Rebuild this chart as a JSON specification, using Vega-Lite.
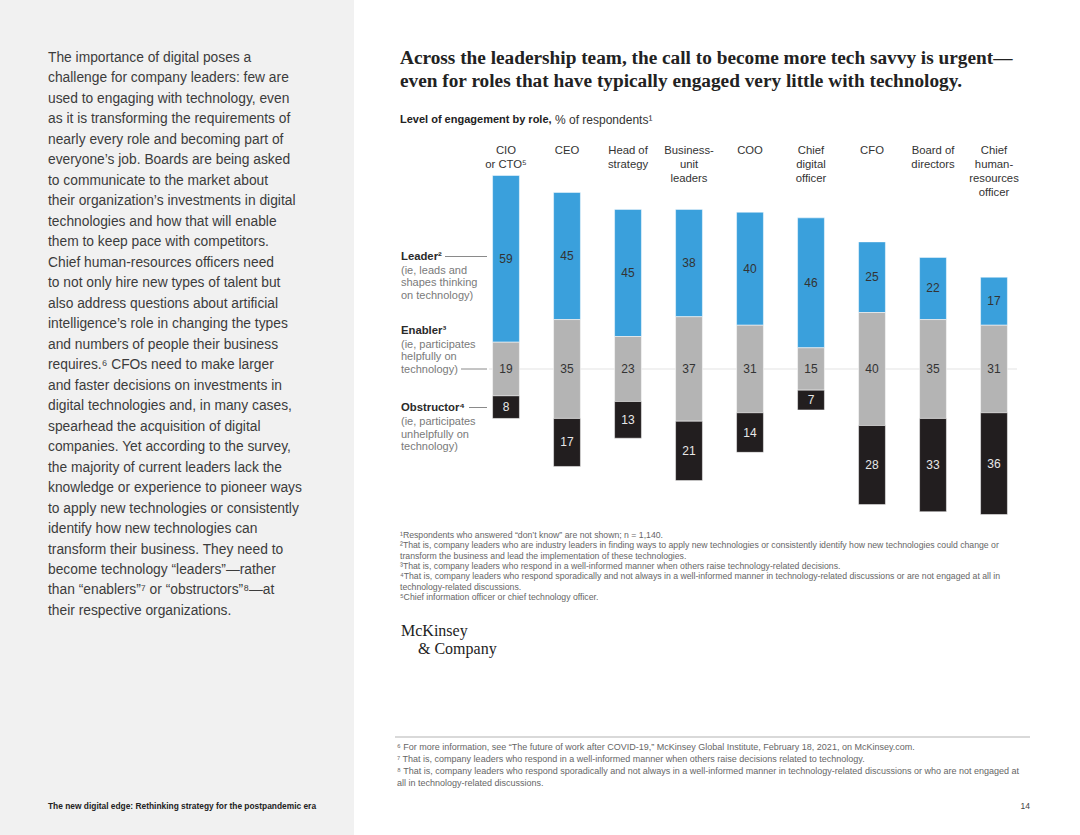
{
  "$schema": "https://vega.github.io/schema/vega-lite/v6.json",
  "width": 1080,
  "height": 835,
  "autosize": "none",
  "padding": 0,
  "background": "white",
  "config": {"view": {"stroke": null}, "text": {"font": "Liberation Sans"}},
  "datasets": {
    "engagement": [
      {"role": "CIO\nor CTO⁵", "level": "Leader", "value": 59},
      {"role": "CIO\nor CTO⁵", "level": "Enabler", "value": 19},
      {"role": "CIO\nor CTO⁵", "level": "Obstructor", "value": 8},
      {"role": "CEO", "level": "Leader", "value": 45},
      {"role": "CEO", "level": "Enabler", "value": 35},
      {"role": "CEO", "level": "Obstructor", "value": 17},
      {"role": "Head of\nstrategy", "level": "Leader", "value": 45},
      {"role": "Head of\nstrategy", "level": "Enabler", "value": 23},
      {"role": "Head of\nstrategy", "level": "Obstructor", "value": 13},
      {"role": "Business-\nunit\nleaders", "level": "Leader", "value": 38},
      {"role": "Business-\nunit\nleaders", "level": "Enabler", "value": 37},
      {"role": "Business-\nunit\nleaders", "level": "Obstructor", "value": 21},
      {"role": "COO", "level": "Leader", "value": 40},
      {"role": "COO", "level": "Enabler", "value": 31},
      {"role": "COO", "level": "Obstructor", "value": 14},
      {"role": "Chief\ndigital\nofficer", "level": "Leader", "value": 46},
      {"role": "Chief\ndigital\nofficer", "level": "Enabler", "value": 15},
      {"role": "Chief\ndigital\nofficer", "level": "Obstructor", "value": 7},
      {"role": "CFO", "level": "Leader", "value": 25},
      {"role": "CFO", "level": "Enabler", "value": 40},
      {"role": "CFO", "level": "Obstructor", "value": 28},
      {"role": "Board of\ndirectors", "level": "Leader", "value": 22},
      {"role": "Board of\ndirectors", "level": "Enabler", "value": 35},
      {"role": "Board of\ndirectors", "level": "Obstructor", "value": 33},
      {"role": "Chief\nhuman-\nresources\nofficer", "level": "Leader", "value": 17},
      {"role": "Chief\nhuman-\nresources\nofficer", "level": "Enabler", "value": 31},
      {"role": "Chief\nhuman-\nresources\nofficer", "level": "Obstructor", "value": 36}
    ]
  },
  "layer": [
    {
      "data": {"values": [{}]},
      "mark": {"type": "rect", "fill": "#f1f1f1"},
      "encoding": {"x": {"value": 0}, "x2": {"value": 354}, "y": {"value": 0}, "y2": {"value": 835}}
    },
    {
      "data": {"values": [{}]},
      "mark": {"type": "text", "align": "left", "baseline": "middle", "fontSize": 13.8, "lineHeight": 20.48, "color": "#3c3c3c",
        "text": [
          "The importance of digital poses a",
          "challenge for company leaders: few are",
          "used to engaging with technology, even",
          "as it is transforming the requirements of",
          "nearly every role and becoming part of",
          "everyone’s job. Boards are being asked",
          "to communicate to the market about",
          "their organization’s investments in digital",
          "technologies and how that will enable",
          "them to keep pace with competitors.",
          "Chief human-resources officers need",
          "to not only hire new types of talent but",
          "also address questions about artificial",
          "intelligence’s role in changing the types",
          "and numbers of people their business",
          "requires.⁶ CFOs need to make larger",
          "and faster decisions on investments in",
          "digital technologies and, in many cases,",
          "spearhead the acquisition of digital",
          "companies. Yet according to the survey,",
          "the majority of current leaders lack the",
          "knowledge or experience to pioneer ways",
          "to apply new technologies or consistently",
          "identify how new technologies can",
          "transform their business. They need to",
          "become technology “leaders”—rather",
          "than “enablers”⁷ or “obstructors”⁸—at",
          "their respective organizations."
        ]},
      "encoding": {"x": {"value": 48}, "y": {"value": 58}}
    },
    {
      "data": {"values": [{}]},
      "mark": {"type": "text", "align": "left", "baseline": "middle", "fontSize": 8.4, "fontWeight": "bold", "color": "#222222",
        "text": "The new digital edge: Rethinking strategy for the postpandemic era"},
      "encoding": {"x": {"value": 48}, "y": {"value": 806}}
    },
    {
      "data": {"values": [{}]},
      "mark": {"type": "text", "align": "right", "baseline": "middle", "fontSize": 8.5, "color": "#444444", "text": "14"},
      "encoding": {"x": {"value": 1030}, "y": {"value": 806}}
    },
    {
      "data": {"values": [{}]},
      "mark": {"type": "text", "align": "left", "baseline": "middle", "font": "Liberation Serif", "fontWeight": "bold", "fontSize": 19.3, "lineHeight": 23, "color": "#222222",
        "text": ["Across the leadership team, the call to become more tech savvy is urgent—", "even for roles that have typically engaged very little with technology."]},
      "encoding": {"x": {"value": 400}, "y": {"value": 58}}
    },
    {
      "data": {"values": [{}]},
      "mark": {"type": "text", "align": "left", "baseline": "middle", "fontSize": 11, "fontWeight": "bold", "color": "#222222", "text": "Level of engagement by role,"},
      "encoding": {"x": {"value": 400}, "y": {"value": 120}}
    },
    {
      "data": {"values": [{}]},
      "mark": {"type": "text", "align": "left", "baseline": "middle", "fontSize": 12, "color": "#333333", "text": "% of respondents¹"},
      "encoding": {"x": {"value": 555}, "y": {"value": 120}}
    },
    {
      "data": {"values": [{}]},
      "mark": {"type": "rule", "color": "#e4e4e4", "strokeWidth": 1.2},
      "encoding": {"x": {"value": 489}, "x2": {"value": 1017}, "y": {"value": 369}}
    },
    {
      "data": {"values": [{}]},
      "mark": {"type": "rule", "color": "#8a8a8a", "strokeWidth": 1},
      "encoding": {"x": {"value": 445}, "x2": {"value": 487}, "y": {"value": 256.5}}
    },
    {
      "data": {"values": [{}]},
      "mark": {"type": "rule", "color": "#8a8a8a", "strokeWidth": 1},
      "encoding": {"x": {"value": 461}, "x2": {"value": 487}, "y": {"value": 369}}
    },
    {
      "data": {"values": [{}]},
      "mark": {"type": "rule", "color": "#8a8a8a", "strokeWidth": 1},
      "encoding": {"x": {"value": 469}, "x2": {"value": 487}, "y": {"value": 407.5}}
    },
    {
      "data": {"values": [{}]},
      "mark": {"type": "text", "align": "left", "baseline": "middle", "fontSize": 11.3, "fontWeight": "bold", "color": "#2a2a2a", "text": "Leader²"},
      "encoding": {"x": {"value": 401}, "y": {"value": 256.5}}
    },
    {
      "data": {"values": [{}]},
      "mark": {"type": "text", "align": "left", "baseline": "middle", "fontSize": 11, "lineHeight": 12.6, "color": "#7a7a7a", "text": ["(ie, leads and", "shapes thinking", "on technology)"]},
      "encoding": {"x": {"value": 401}, "y": {"value": 270.8}}
    },
    {
      "data": {"values": [{}]},
      "mark": {"type": "text", "align": "left", "baseline": "middle", "fontSize": 11.3, "fontWeight": "bold", "color": "#2a2a2a", "text": "Enabler³"},
      "encoding": {"x": {"value": 401}, "y": {"value": 330.7}}
    },
    {
      "data": {"values": [{}]},
      "mark": {"type": "text", "align": "left", "baseline": "middle", "fontSize": 11, "lineHeight": 12.3, "color": "#7a7a7a", "text": ["(ie, participates", "helpfully on", "technology)"]},
      "encoding": {"x": {"value": 401}, "y": {"value": 345}}
    },
    {
      "data": {"values": [{}]},
      "mark": {"type": "text", "align": "left", "baseline": "middle", "fontSize": 11.3, "fontWeight": "bold", "color": "#2a2a2a", "text": "Obstructor⁴"},
      "encoding": {"x": {"value": 401}, "y": {"value": 407.5}}
    },
    {
      "data": {"values": [{}]},
      "mark": {"type": "text", "align": "left", "baseline": "middle", "fontSize": 11, "lineHeight": 12.6, "color": "#7a7a7a", "text": ["(ie, participates", "unhelpfully on", "technology)"]},
      "encoding": {"x": {"value": 401}, "y": {"value": 422}}
    },
    {
      "data": {"name": "engagement"},
      "transform": [
        {"calculate": "datum.level === 'Enabler' ? datum.value : 0", "as": "en"},
        {"joinaggregate": [{"op": "sum", "field": "en", "as": "E"}], "groupby": ["role"]},
        {"calculate": "datum.level === 'Leader' ? datum.E / 2 : (datum.level === 'Enabler' ? -datum.E / 2 : -datum.E / 2 - datum.value)", "as": "y0"},
        {"calculate": "datum.level === 'Leader' ? datum.E / 2 + datum.value : (datum.level === 'Enabler' ? datum.E / 2 : -datum.E / 2)", "as": "y1"},
        {"calculate": "(datum.y0 + datum.y1) / 2", "as": "mid"}
      ],
      "layer": [
        {
          "mark": {"type": "bar", "stroke": "#ffffff", "strokeWidth": 0.7, "strokeOpacity": 0.7},
          "encoding": {
            "x": {"field": "role", "type": "nominal", "sort": null, "axis": null,
              "scale": {"range": [475.5, 1024.5], "paddingInner": 0.56, "paddingOuter": 0.28}},
            "y": {"field": "y0", "type": "quantitative", "axis": null,
              "scale": {"domain": [-60, 80], "range": [538.5, 143], "nice": false, "zero": false}},
            "y2": {"field": "y1"},
            "color": {"field": "level", "type": "nominal", "legend": null,
              "scale": {"domain": ["Leader", "Enabler", "Obstructor"], "range": ["#3aa0dc", "#b4b4b4", "#221e1f"]}}
          }
        },
        {
          "mark": {"type": "text", "align": "center", "baseline": "middle", "fontSize": 12},
          "encoding": {
            "x": {"field": "role", "type": "nominal", "sort": null},
            "y": {"field": "mid", "type": "quantitative"},
            "text": {"field": "value", "type": "quantitative"},
            "color": {"condition": {"test": "datum.level === 'Obstructor'", "value": "#e8e8e8"}, "value": "#333333"}
          }
        },
        {
          "transform": [{"filter": "datum.level === 'Leader'"}],
          "mark": {"type": "text", "align": "center", "baseline": "middle", "fontSize": 11.3, "lineHeight": 14, "lineBreak": "\n", "color": "#333333"},
          "encoding": {
            "x": {"field": "role", "type": "nominal", "sort": null},
            "y": {"value": 150.5},
            "text": {"field": "role", "type": "nominal"}
          }
        }
      ]
    },
    {
      "data": {"values": [{}]},
      "mark": {"type": "text", "align": "left", "baseline": "middle", "fontSize": 8.7, "lineHeight": 10.3, "color": "#666666",
        "text": [
          "¹Respondents who answered “don’t know” are not shown; n = 1,140.",
          "²That is, company leaders who are industry leaders in finding ways to apply new technologies or consistently identify how new technologies could change or",
          "\u00a0transform the business and lead the implementation of these technologies.",
          "³That is, company leaders who respond in a well-informed manner when others raise technology-related decisions.",
          "⁴That is, company leaders who respond sporadically and not always in a well-informed manner in technology-related discussions or are not engaged at all in",
          "\u00a0technology-related discussions.",
          "⁵Chief information officer or chief technology officer."
        ]},
      "encoding": {"x": {"value": 400}, "y": {"value": 535}}
    },
    {
      "data": {"values": [{}]},
      "mark": {"type": "text", "align": "left", "baseline": "middle", "font": "Liberation Serif", "fontSize": 16, "color": "#222222", "text": "McKinsey"},
      "encoding": {"x": {"value": 401}, "y": {"value": 631}}
    },
    {
      "data": {"values": [{}]},
      "mark": {"type": "text", "align": "left", "baseline": "middle", "font": "Liberation Serif", "fontSize": 16, "color": "#222222", "text": "& Company"},
      "encoding": {"x": {"value": 418}, "y": {"value": 649}}
    },
    {
      "data": {"values": [{}]},
      "mark": {"type": "rule", "color": "#cccccc", "strokeWidth": 1.5},
      "encoding": {"x": {"value": 395}, "x2": {"value": 1030}, "y": {"value": 737}}
    },
    {
      "data": {"values": [{}]},
      "mark": {"type": "text", "align": "left", "baseline": "middle", "fontSize": 9, "lineHeight": 12, "color": "#666666",
        "text": [
          "⁶ For more information, see “The future of work after COVID-19,” McKinsey Global Institute, February 18, 2021, on McKinsey.com.",
          "⁷ That is, company leaders who respond in a well-informed manner when others raise decisions related to technology.",
          "⁸ That is, company leaders who respond sporadically and not always in a well-informed manner in technology-related discussions or who are not engaged at",
          "\u00a0\u00a0all in technology-related discussions."
        ]},
      "encoding": {"x": {"value": 397}, "y": {"value": 747}}
    }
  ]
}
